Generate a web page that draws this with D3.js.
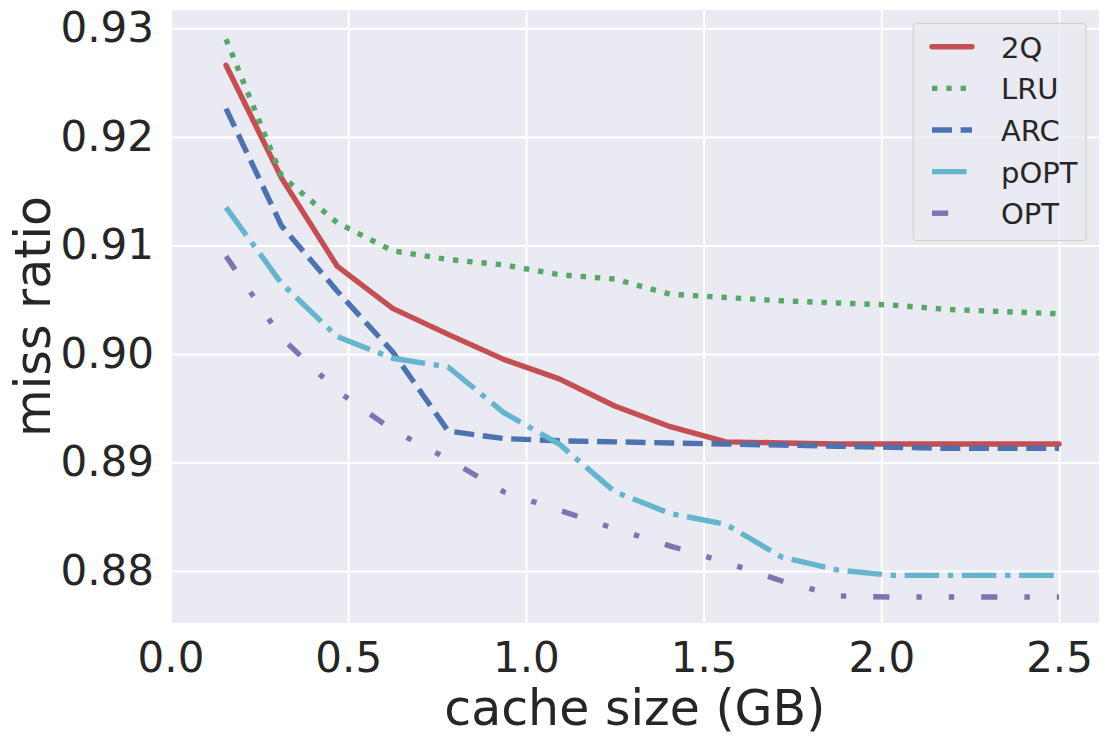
<!DOCTYPE html>
<html>
<head>
<meta charset="utf-8">
<script src="https://cdn.jsdelivr.net/npm/d3@7"></script>
<style>
  body { margin: 0; background: #fff; }
  text { font-family: "DejaVu Sans", sans-serif; fill: #262626; }
</style>
</head>
<body>
<div id="chart"></div>
<script>
// cache sizes (GB)
const cacheSize = [0.15625, 0.3125, 0.46875, 0.625, 0.78125, 0.9375, 1.09375, 1.25,
                   1.40625, 1.5625, 1.71875, 1.875, 2.03125, 2.1875, 2.34375, 2.5];

const q2   = [0.9266, 0.9162, 0.9081, 0.9042, 0.9018, 0.8995, 0.8977, 0.8952,
              0.8933, 0.8919, 0.8918, 0.8917, 0.8917, 0.8917, 0.8917, 0.8917];
const lru  = [0.9290, 0.9164, 0.9121, 0.9095, 0.9087, 0.9082, 0.9073, 0.9069,
              0.9055, 0.9052, 0.9049, 0.9047, 0.9045, 0.9041, 0.9039, 0.9037];
const arc  = [0.9226, 0.9118, 0.9058, 0.9002, 0.8929, 0.8922, 0.8920, 0.8919,
              0.8918, 0.8917, 0.8916, 0.8915, 0.8914, 0.8913, 0.8913, 0.8913];
const popt = [0.9135, 0.9065, 0.9016, 0.8996, 0.8988, 0.8946, 0.8917, 0.8873,
              0.8853, 0.8843, 0.8813, 0.8801, 0.8796, 0.8796, 0.8796, 0.8796];
const opt  = [0.9090, 0.9015, 0.8966, 0.8930, 0.8903, 0.8873, 0.8856, 0.8839,
              0.8823, 0.8808, 0.8791, 0.8777, 0.8776, 0.8776, 0.8776, 0.8776];

const seriesNames = ["2Q", "LRU", "ARC", "pOPT", "OPT"];
const xTicks = [0.0, 0.5, 1.0, 1.5, 2.0, 2.5];
const yTicks = [0.88, 0.89, 0.90, 0.91, 0.92, 0.93];

const lw = 5.4;
const styles = {
    "2Q":   { color: "#C44E52", dash: null, cap: "round" },
    "LRU":  { color: "#55A868", dash: [1, 1.65] },
    "ARC":  { color: "#4C72B0", dash: [3.7, 1.6] },
    "pOPT": { color: "#64B5CD", dash: [6.4, 1.6, 1, 1.6] },
    "OPT":  { color: "#8172B2", dash: [3, 5, 1, 5, 1, 5] }
};
const seriesData = { "2Q": q2, "LRU": lru, "ARC": arc, "pOPT": popt, "OPT": opt };

const W = 1109, H = 744;
const margin = { top: 10, right: 10, bottom: 121, left: 170.5 };
const width = W - margin.left - margin.right;
const height = H - margin.top - margin.bottom;

const svg = d3.select("#chart").append("svg")
    .attr("width", W)
    .attr("height", H);

const g = svg.append("g")
    .attr("transform", `translate(${margin.left},${margin.top})`);

const x = d3.scaleLinear().domain([0, 2.6125]).range([0, width]);
const y = d3.scaleLinear().domain([0.87521, 0.93169]).range([height, 0]);

// background
g.append("rect")
    .attr("width", width)
    .attr("height", height)
    .attr("fill", "#EAEAF2");

// grid
g.append("g")
    .attr("transform", `translate(0,${height})`)
    .call(d3.axisBottom(x).tickValues(xTicks).tickSize(-height).tickFormat(""))
    .call(a => a.select(".domain").remove())
    .selectAll("line").attr("stroke", "#fff").attr("stroke-width", 2);

g.append("g")
    .call(d3.axisLeft(y).tickValues(yTicks).tickSize(-width).tickFormat(""))
    .call(a => a.select(".domain").remove())
    .selectAll("line").attr("stroke", "#fff").attr("stroke-width", 2);

// tick labels
const xAxis = g.append("g")
    .attr("transform", `translate(0,${height})`)
    .call(d3.axisBottom(x).tickValues(xTicks).tickSize(0).tickPadding(19).tickFormat(d3.format(".1f")));
xAxis.select(".domain").remove();
xAxis.selectAll("text").style("font-size", "42px").attr("fill", "#262626")
    .style("font-family", "DejaVu Sans");

const yAxis = g.append("g")
    .call(d3.axisLeft(y).tickValues(yTicks).tickSize(0).tickPadding(16.5).tickFormat(d3.format(".2f")));
yAxis.select(".domain").remove();
yAxis.selectAll("text").style("font-size", "42px").attr("fill", "#262626")
    .style("font-family", "DejaVu Sans");

// axis labels
svg.append("text")
    .attr("x", margin.left + width / 2)
    .attr("y", 725)
    .attr("text-anchor", "middle")
    .style("font-size", "49px")
    .text("cache size (GB)");

svg.append("text")
    .attr("transform", `translate(50,${margin.top + height / 2}) rotate(-90)`)
    .attr("text-anchor", "middle")
    .style("font-size", "49px")
    .text("miss ratio");

// lines
const line = d3.line()
    .x((d, i) => x(cacheSize[i]))
    .y(d => y(d));

seriesNames.forEach(name => {
    const s = styles[name];
    g.append("path")
        .datum(seriesData[name])
        .attr("d", line)
        .attr("fill", "none")
        .attr("stroke", s.color)
        .attr("stroke-width", lw)
        .attr("stroke-linejoin", "round")
        .attr("stroke-linecap", s.cap || "butt")
        .attr("stroke-dasharray", s.dash ? s.dash.map(v => v * lw).join(",") : null);
});

// legend
const legend = svg.append("g");
legend.append("rect")
    .attr("x", 913.3)
    .attr("y", 23.3)
    .attr("width", 1086 - 913.3)
    .attr("height", 240.7 - 23.3)
    .attr("rx", 4)
    .attr("fill", "rgba(234,234,242,0.8)")
    .attr("stroke", "rgba(204,204,204,0.8)")
    .attr("stroke-width", 1.2);

seriesNames.forEach((name, i) => {
    const s = styles[name];
    const cy = 46.8 + i * 41.6;
    legend.append("line")
        .attr("x1", 932).attr("x2", 972)
        .attr("y1", cy).attr("y2", cy)
        .attr("stroke", s.color)
        .attr("stroke-width", lw)
        .attr("stroke-linecap", s.cap || "butt")
        .attr("stroke-dasharray", s.dash ? s.dash.map(v => v * lw).join(",") : null);
    legend.append("text")
        .attr("x", 1001)
        .attr("y", cy + 11)
        .style("font-size", "29px")
        .text(name);
});
</script>
</body>
</html>
